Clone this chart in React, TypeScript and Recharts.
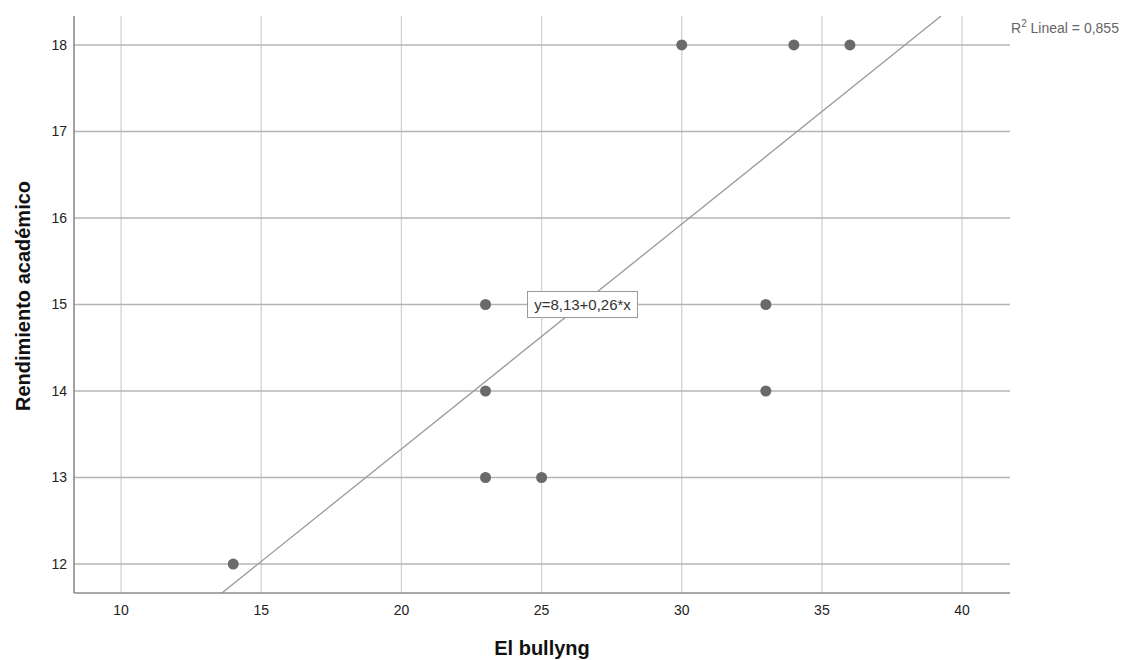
import React from "react";
import {
    ScatterChart,
    Scatter,
    XAxis,
    YAxis,
    ReferenceLine,
    ReferenceDot,
} from "recharts";

// puntos observados (El bullyng, Rendimiento académico)
const BULLYING = [14, 23, 23, 23, 25, 30, 34, 36, 33, 33];
const RENDIMIENTO = [12, 15, 14, 13, 13, 18, 18, 18, 15, 14];

const X_TICKS = [10, 15, 20, 25, 30, 35, 40];
const Y_TICKS = [12, 13, 14, 15, 16, 17, 18];
const X_DOMAIN = [8.32, 41.71];
const Y_DOMAIN = [11.665, 18.335];

// recta de ajuste
const INTERCEPT = 8.13;
const SLOPE = 0.26;
const EQUATION = "y=8,13+0,26*x";
const R2_TEXT = "Lineal = 0,855";

const FONT = "Arial, 'Liberation Sans', sans-serif";

const points = BULLYING.map((x, i) => ({ x, y: RENDIMIENTO[i] }));

const fitLine = [
    { x: (Y_DOMAIN[0] - INTERCEPT) / SLOPE, y: Y_DOMAIN[0] },
    { x: (Y_DOMAIN[1] - INTERCEPT) / SLOPE, y: Y_DOMAIN[1] },
];

const EquationBox = (props: any) => {
    const { cx, cy } = props;
    return (
        <g>
            <rect x={cx - 55} y={cy - 13} width={110} height={26} fill="#fff" stroke="#9a9a9a" strokeWidth={1} />
            <text x={cx} y={cy + 5} textAnchor="middle" fontSize={15} fontFamily={FONT} fill="#333">
                {EQUATION}
            </text>
        </g>
    );
};

const R2Label = (props: any) => {
    const { cx, cy } = props;
    return (
        <text x={cx + 1} y={cy} fontSize={14} fontFamily={FONT} fill="#666">
            R<tspan fontSize={10} dy={-6}>2</tspan>
            <tspan dy={6}> {R2_TEXT}</tspan>
        </text>
    );
};

const YTitle = () => {
    const x = 30;
    const y = 296;
    return (
        <text
            x={x}
            y={y}
            transform={`rotate(-90, ${x}, ${y})`}
            textAnchor="middle"
            fontSize={20}
            fontWeight="bold"
            fontFamily={FONT}
            fill="#111"
        >
            Rendimiento académico
        </text>
    );
};

const XTitle = (props: any) => {
    const vb = props.viewBox;
    return (
        <text
            x={vb.x + vb.width / 2}
            y={655}
            textAnchor="middle"
            fontSize={20}
            fontWeight="bold"
            fontFamily={FONT}
            fill="#111"
        >
            El bullyng
        </text>
    );
};

export default function App() {
    return (
        <div style={{ position: "absolute", left: 0, top: 0, background: "#fff" }}>
            <ScatterChart width={1123} height={660} margin={{ top: 16, right: 113, bottom: 0, left: 0 }}>
                <XAxis
                    type="number"
                    dataKey="x"
                    domain={X_DOMAIN}
                    ticks={X_TICKS}
                    allowDataOverflow
                    height={67}
                    tickLine={false}
                    tickSize={10}
                    tickMargin={2}
                    axisLine={{ stroke: "#8c8c8c", strokeWidth: 1.6 }}
                    tick={{ fontSize: 14, fill: "#222", fontFamily: FONT }}
                    label={{ content: XTitle }}
                />
                <YAxis
                    type="number"
                    dataKey="y"
                    domain={Y_DOMAIN}
                    ticks={Y_TICKS}
                    allowDataOverflow
                    width={74}
                    tickLine={false}
                    tickSize={5}
                    tickMargin={2}
                    axisLine={{ stroke: "#8c8c8c", strokeWidth: 1.6 }}
                    tick={{ fontSize: 14, fill: "#222", fontFamily: FONT }}
                    label={{ content: YTitle }}
                />
                {/* rejilla */}
                {X_TICKS.map((t) => (
                    <ReferenceLine key={`vx-${t}`} x={t} stroke="#d2d2d2" strokeWidth={1.3} />
                ))}
                {Y_TICKS.map((t) => (
                    <ReferenceLine key={`hy-${t}`} y={t} stroke="#b4b4b4" strokeWidth={1.3} />
                ))}
                <ReferenceLine segment={fitLine} stroke="#9a9a9a" strokeWidth={1.3} ifOverflow="hidden" />
                <ReferenceDot x={26.46} y={15} ifOverflow="visible" shape={EquationBox} />
                <ReferenceDot x={X_DOMAIN[1]} y={18.14} ifOverflow="visible" shape={R2Label} />
                <Scatter data={points} fill="#6a6a6a" isAnimationActive={false} shape={(p: any) => (
                    <circle cx={p.cx} cy={p.cy} r={5.5} fill="#6a6a6a" />
                )} />
            </ScatterChart>
        </div>
    );
}
